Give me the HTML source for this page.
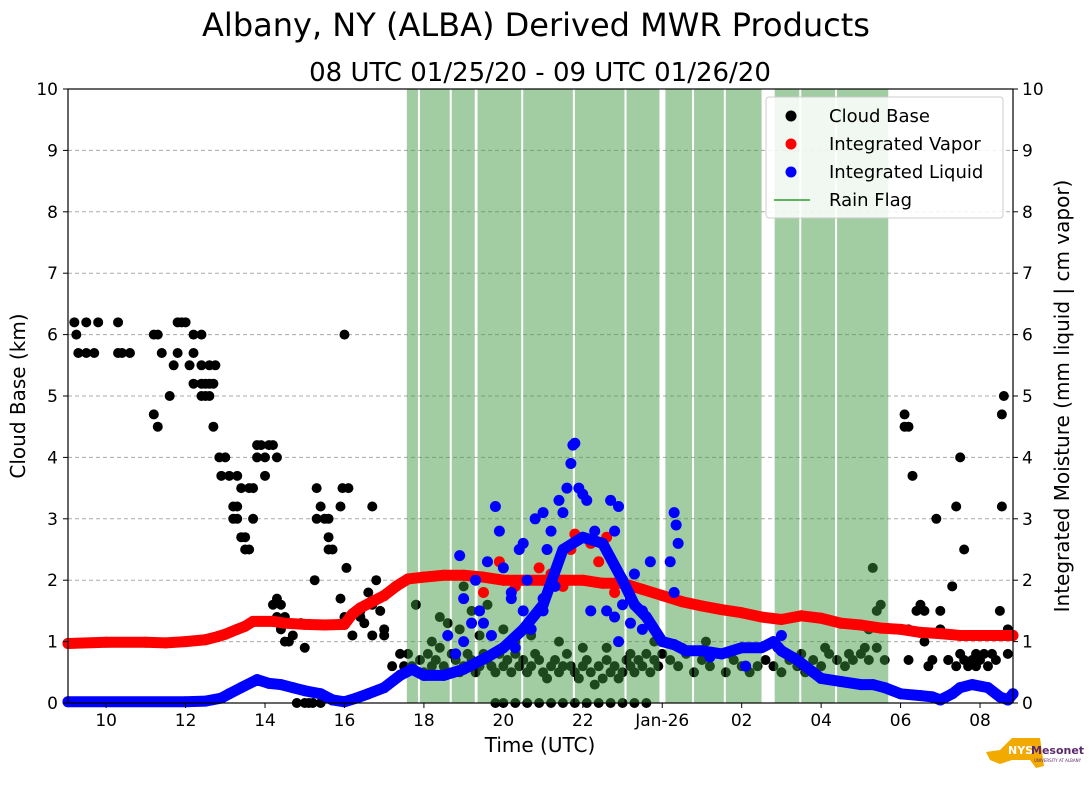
<!DOCTYPE html>
<html><head><meta charset="utf-8"><style>
body{margin:0;background:#fff;}
svg text{font-family:"DejaVu Sans","Liberation Sans",sans-serif;}
</style></head><body>
<svg id="chart" width="1089" height="804" viewBox="0 0 1089 804" xmlns="http://www.w3.org/2000/svg">
<text x="536" y="36" font-size="32" text-anchor="middle" fill="#000">Albany, NY (ALBA) Derived MWR Products</text>
<text x="540" y="81" font-size="26" text-anchor="middle" fill="#000">08 UTC 01/25/20 - 09 UTC 01/26/20</text>
<g id="grid"></g>
<g id="cloud"></g>
<g id="rain"></g>
<g id="vapor"></g>
<g id="liquid"></g>
<rect x="68" y="89" width="945" height="614" fill="none" stroke="#000" stroke-width="1.2"/>
<g id="axes"></g>
<text x="540" y="752" font-size="20" text-anchor="middle">Time (UTC)</text>
<text x="25" y="396" font-size="20" text-anchor="middle" transform="rotate(-90 25 396)">Cloud Base (km)</text>
<text x="1069" y="396" font-size="20" text-anchor="middle" transform="rotate(-90 1069 396)">Integrated Moisture (mm liquid | cm vapor)</text>
<g>
<rect x="766" y="97" width="237" height="121" rx="3" fill="#fff" fill-opacity="0.85" stroke="#ccc"/>
<circle cx="791" cy="116" r="5.5" fill="#000"/><text x="829" y="122" font-size="18">Cloud Base</text>
<circle cx="791" cy="144" r="5.5" fill="#f00"/><text x="829" y="150" font-size="18">Integrated Vapor</text>
<circle cx="791" cy="172" r="5.5" fill="#00f"/><text x="829" y="178" font-size="18">Integrated Liquid</text>
<line x1="774" y1="200" x2="810" y2="200" stroke="#5fb35f" stroke-width="2"/><text x="829" y="206" font-size="18">Rain Flag</text>
</g>
<g>
<path d="M986 752 L1000 750 L1008 742 L1012 738 L1040 738 L1042 752 L1044 766 L1036 768 L1030 760 L1012 760 L1000 764 L990 760 Z" fill="#f2a900"/>
<text x="1008" y="754" font-size="11" font-weight="bold" fill="#fff">NYS</text>
<text x="1031" y="754" font-size="11" font-weight="bold" fill="#5b2a6e">Mesonet</text>
<text x="1034" y="762" font-size="4" fill="#5b2a6e">UNIVERSITY AT ALBANY</text>
</g>
</svg>
<script>
const vaporT = [9,10,11,11.5,12,12.5,12.8,13,13.3,13.5,13.7,14.2,14.5,15,15.5,16,16.2,16.4,16.7,17.0,17.3,17.6,18,18.5,19,19.5,20,20.5,21,21.5,22,22.5,23,23.5,24,24.5,25,25.5,26,26.5,27,27.5,28,28.5,29,29.5,30,30.5,31,31.5,32,32.83];
const vaporV = [0.97,0.99,0.99,0.98,1.0,1.03,1.08,1.12,1.2,1.25,1.33,1.33,1.3,1.28,1.27,1.28,1.45,1.55,1.65,1.75,1.9,2.02,2.05,2.08,2.08,2.05,2.0,2.0,2.0,2.0,2.0,1.95,1.95,1.85,1.75,1.65,1.58,1.52,1.47,1.4,1.36,1.42,1.38,1.3,1.27,1.22,1.2,1.15,1.13,1.1,1.1,1.1];
const vaporExtraT = [21.8,21.7,22.2,22.6,22.4,19.9,19.5,20.9,21.5,22.8,20.3,21.2];
const vaporExtraV = [2.75,2.5,2.6,2.7,2.3,2.3,1.8,2.2,1.9,1.8,1.9,2.1];
const liquidT = [9,12,12.5,12.9,13.1,13.4,13.8,14.1,14.4,14.7,15,15.4,15.7,16,16.3,16.6,17,17.4,17.7,18,18.5,19,19.3,19.6,20,20.5,21,21.5,22,22.5,23,23.3,23.6,24,24.3,24.6,25,25.5,26,26.5,26.8,27,27.4,27.8,28,28.5,29,29.3,29.6,30,30.5,30.8,31,31.3,31.5,31.8,32.2,32.5,32.7,32.83];
const liquidV = [0.02,0.02,0.03,0.08,0.15,0.25,0.38,0.32,0.3,0.25,0.2,0.15,0.05,0.02,0.08,0.15,0.25,0.45,0.55,0.45,0.45,0.55,0.65,0.75,0.9,1.2,1.6,2.5,2.7,2.6,2.0,1.6,1.4,1.0,0.95,0.85,0.85,0.8,0.9,0.9,1.0,0.85,0.7,0.5,0.4,0.35,0.3,0.3,0.25,0.15,0.12,0.1,0.05,0.15,0.25,0.3,0.25,0.1,0.05,0.15];
const liquidExtraT = [18.9,19.0,19.3,19.6,19.8,19.9,20.0,20.2,20.4,20.5,20.6,20.8,21.0,21.1,21.2,21.4,21.5,21.6,21.7,21.75,21.8,21.9,22.0,22.1,22.3,22.5,22.7,22.8,22.9,23.0,23.2,23.3,23.5,23.7,24.3,24.35,24.4,24.2,19.5,20.3,21.0,22.2,22.9,19.0,19.2,19.4,18.8,18.6,19.7,20.2,20.5,20.7,21.0,21.3,22.6,22.8,23.0,23.2,23.5,24.3,25.2,26.1,27.0];
const liquidExtraV = [2.4,1.7,2.0,2.3,3.2,2.8,2.2,1.7,2.5,2.6,2.0,3.0,3.1,2.5,2.8,3.3,3.1,3.5,3.9,4.2,4.23,3.5,3.4,3.3,2.8,2.6,3.3,2.8,3.2,2.0,1.7,2.1,1.5,2.3,3.1,2.9,2.6,2.3,1.3,0.9,1.5,1.5,1.0,1.0,1.3,1.5,0.8,1.1,1.1,1.8,1.5,1.2,1.7,1.9,1.5,1.4,1.6,1.3,1.2,1.8,0.75,0.6,1.1];
const cloudT = [9.2,9.5,9.8,10.3,11.8,11.9,12.0,9.25,11.2,11.3,12.2,12.4,16.0,9.3,9.5,9.7,10.3,10.4,10.6,11.4,11.8,12.2,11.7,12.1,12.4,12.6,12.75,12.2,12.4,12.5,12.6,12.7,11.6,12.4,12.5,12.6,11.2,11.3,12.7,13.8,13.9,14.1,14.2,12.85,13.0,13.8,14.0,14.3,12.9,13.1,13.3,14.0,13.4,13.6,13.7,13.2,13.3,13.2,13.3,13.7,13.4,13.5,13.5,13.6,15.3,15.95,16.1,15.4,15.9,16.7,15.3,15.5,15.6,15.6,15.6,15.7,16.05,15.25,16.8,14.3,14.2,14.4,14.3,14.5,16.0,16.4,14.4,14.7,14.5,14.6,15.0,14.9,16.2,16.4,16.6,16.7,16.9,17.0,17.2,17.3,17.4,17.5,16.5,16.7,17.0,14.8,15.0,15.2,15.4,15.9,15.1,
17.6,17.7,17.8,17.9,18.0,18.1,18.2,18.3,18.4,18.5,18.6,18.7,18.8,18.9,19.0,19.1,19.2,19.3,19.4,19.5,19.6,19.7,19.8,19.9,20.0,20.1,20.2,20.3,20.4,20.5,20.6,20.7,20.8,20.9,21.0,21.1,21.2,21.3,21.4,21.5,21.6,21.7,21.8,21.9,22.0,22.1,22.2,22.3,22.4,22.5,22.6,22.7,22.8,22.9,23.0,23.1,23.2,23.3,23.4,23.5,23.6,23.7,23.8,23.9,24.0,24.2,24.4,24.6,24.8,25.0,25.2,25.4,25.6,25.8,26.0,26.2,26.4,26.6,26.8,27.0,27.2,27.4,27.6,27.8,28.0,28.2,28.4,28.6,28.8,29.0,29.2,29.4,29.6,
17.8,18.2,18.6,19.0,19.2,19.6,20.3,18.4,18.9,19.4,20.0,20.7,21.4,22.0,22.6,23.2,23.8,24.5,25.1,25.7,26.3,26.9,27.5,28.1,28.7,29.1,29.3,29.4,29.5,29.2,
19.8,20.0,20.3,20.6,20.9,21.2,21.5,21.8,22.1,22.4,22.7,23.0,23.3,23.6,
30.1,30.1,30.2,30.3,30.5,30.6,30.4,31.5,31.4,30.9,31.3,31.6,31.0,30.2,32.6,32.55,32.55,32.5,32.7,30.2,30.6,30.7,30.8,31.0,31.2,31.4,31.5,31.6,31.7,31.8,31.9,32.0,32.1,32.2,32.3,32.4,32.7,31.2,31.9];
const cloudV = [6.2,6.2,6.2,6.2,6.2,6.2,6.2,6.0,6.0,6.0,6.0,6.0,6.0,5.7,5.7,5.7,5.7,5.7,5.7,5.7,5.7,5.7,5.5,5.5,5.5,5.5,5.5,5.2,5.2,5.2,5.2,5.2,5.0,5.0,5.0,5.0,4.7,4.5,4.5,4.2,4.2,4.2,4.2,4.0,4.0,4.0,4.0,4.0,3.7,3.7,3.7,3.7,3.5,3.5,3.5,3.2,3.2,3.0,3.0,3.0,2.7,2.7,2.5,2.5,3.5,3.5,3.5,3.2,3.2,3.2,3.0,3.0,3.0,2.7,2.5,2.5,2.2,2.0,2.0,1.7,1.6,1.6,1.4,1.4,1.4,1.4,1.2,1.1,1.0,1.0,0.9,1.3,1.1,1.5,1.8,1.6,1.5,1.2,0.6,0.4,0.8,0.6,1.3,1.1,1.1,0.0,0.0,0.0,0.0,1.7,0.0,
0.8,0.6,1.6,0.7,0.5,0.8,0.6,0.7,0.9,0.6,0.5,0.8,0.7,0.5,0.6,0.8,0.7,0.5,0.6,0.8,0.7,0.6,0.5,0.8,0.6,0.7,0.5,0.8,0.6,0.7,0.5,0.6,0.8,0.7,0.5,0.4,0.6,0.7,0.5,0.6,0.8,0.6,0.5,0.4,0.6,0.7,0.5,0.3,0.6,0.4,0.7,0.5,0.6,0.4,0.5,0.7,0.6,0.5,0.7,0.6,0.8,0.5,0.7,0.6,0.8,0.7,0.6,0.8,0.5,0.7,0.6,0.8,0.5,0.7,0.6,0.5,0.6,0.7,0.6,0.5,0.7,0.6,0.5,0.7,0.6,0.8,0.7,0.6,0.7,0.8,0.7,0.9,0.7,
1.6,1.0,1.3,1.9,1.5,1.6,1.0,1.4,1.2,1.1,1.2,1.1,1.0,0.9,0.9,0.8,1.0,0.9,1.0,0.8,0.9,0.9,0.8,0.9,0.8,0.9,2.2,1.5,1.6,1.2,
0.0,0.0,0.0,0.0,0.0,0.0,0.0,0.0,0.0,0.0,0.0,0.0,0.0,0.0,
4.7,4.5,4.5,3.7,1.6,1.5,1.5,4.0,3.2,3.0,1.9,2.5,1.2,1.2,5.0,4.7,3.2,1.5,1.2,0.7,1.0,0.6,0.7,1.5,0.7,0.6,0.8,0.7,0.6,0.7,0.8,0.7,0.8,0.6,0.8,0.7,0.8,0.7,0.6];
const rainStart = [17.57,17.9,18.7,19.35,20.5,21.8,23.1,24.08,24.8,25.6,26.83,27.5,28.4];
const rainEnd =   [17.85,18.65,19.28,20.45,21.75,23.05,23.93,24.75,25.55,26.5,27.45,28.35,29.69];
const yTicks = [0,1,2,3,4,5,6,7,8,9,10];
const xTickHours = [10,12,14,16,18,20,22,24,26,28,30,32];
const xTickLabels = ["10","12","14","16","18","20","22","Jan-26","02","04","06","08"];

const NS="http://www.w3.org/2000/svg";
const X0=68,X1=1013,T0=9.04,T1=32.83,Y0=703,Y1=89;
function xs(t){return X0+(t-T0)*(X1-X0)/(T1-T0);}
function ys(v){return Y0-v*(Y0-Y1)/10;}
function mk(tag,attrs,parent){const e=document.createElementNS(NS,tag);for(const k in attrs)e.setAttribute(k,attrs[k]);parent.appendChild(e);return e;}
const clipOk=t=>t>=T0-0.05&&t<=T1+0.05;
const cx=t=>Math.min(X1,Math.max(X0,xs(t)));

const grid=document.getElementById('grid'),axes=document.getElementById('axes');
yTicks.forEach(v=>{
  if(v>0&&v<10){const g=mk('line',{x1:X0,x2:X1,y1:ys(v),y2:ys(v),stroke:'#aaa','stroke-dasharray':'4,3'},grid);
  
  }
  mk('line',{x1:X0-5,x2:X0,y1:ys(v),y2:ys(v),stroke:'#000'},axes);
  mk('line',{x1:X1,x2:X1+5,y1:ys(v),y2:ys(v),stroke:'#000'},axes);
  const l=mk('text',{x:X0-10,y:ys(v)+6,'font-size':17,'text-anchor':'end'},axes);l.textContent=v;
  
  
  const r=mk('text',{x:X1+9,y:ys(v)+6,'font-size':17},axes);r.textContent=v;
  
  
});
xTickHours.forEach((h,i)=>{
  mk('line',{x1:xs(h),x2:xs(h),y1:Y0,y2:Y0+5,stroke:'#000'},axes);
  const l=mk('text',{x:xs(h),y:Y0+23,'font-size':17,'text-anchor':'middle'},axes);l.textContent=xTickLabels[i];
  
  
});

const cg=document.getElementById('cloud');
cloudT.forEach((t,i)=>{if(!clipOk(t))return;
  const c=mk('circle',{cx:xs(t),cy:ys(cloudV[i]),r:5,fill:'#000'},cg);
  
  
});
const rg=document.getElementById('rain');
rainStart.forEach((s,i)=>{
  const r=mk('rect',{x:xs(s),y:Y1,width:Math.max(1,xs(rainEnd[i])-xs(s)),height:Y0-Y1,fill:'rgb(60,150,60)','fill-opacity':0.48},rg);
  
  
});
function trace(T,V,color,g,name){
  const pts=T.map((t,i)=>cx(t)+','+ys(V[i])).join(' ');
  const p=mk('polyline',{points:pts,fill:'none',stroke:color,'stroke-width':11,'stroke-linecap':'round','stroke-linejoin':'round'},g);
  
  
  T.forEach((t,i)=>{
    const c=mk('circle',{cx:cx(t),cy:ys(V[i]),r:5.5,fill:color},g);
    
    
  });
}
const vg=document.getElementById('vapor'),lg=document.getElementById('liquid');
trace(vaporT,vaporV,'#f00',vg,'vapor');
vaporExtraT.forEach((t,i)=>{
  const c=mk('circle',{cx:xs(t),cy:ys(vaporExtraV[i]),r:5.5,fill:'#f00'},vg);
  
  
});
trace(liquidT,liquidV,'#00f',lg,'liquid');
liquidExtraT.forEach((t,i)=>{
  const c=mk('circle',{cx:xs(t),cy:ys(liquidExtraV[i]),r:5.5,fill:'#00f'},lg);
  
  
});
</script>
</body></html>
